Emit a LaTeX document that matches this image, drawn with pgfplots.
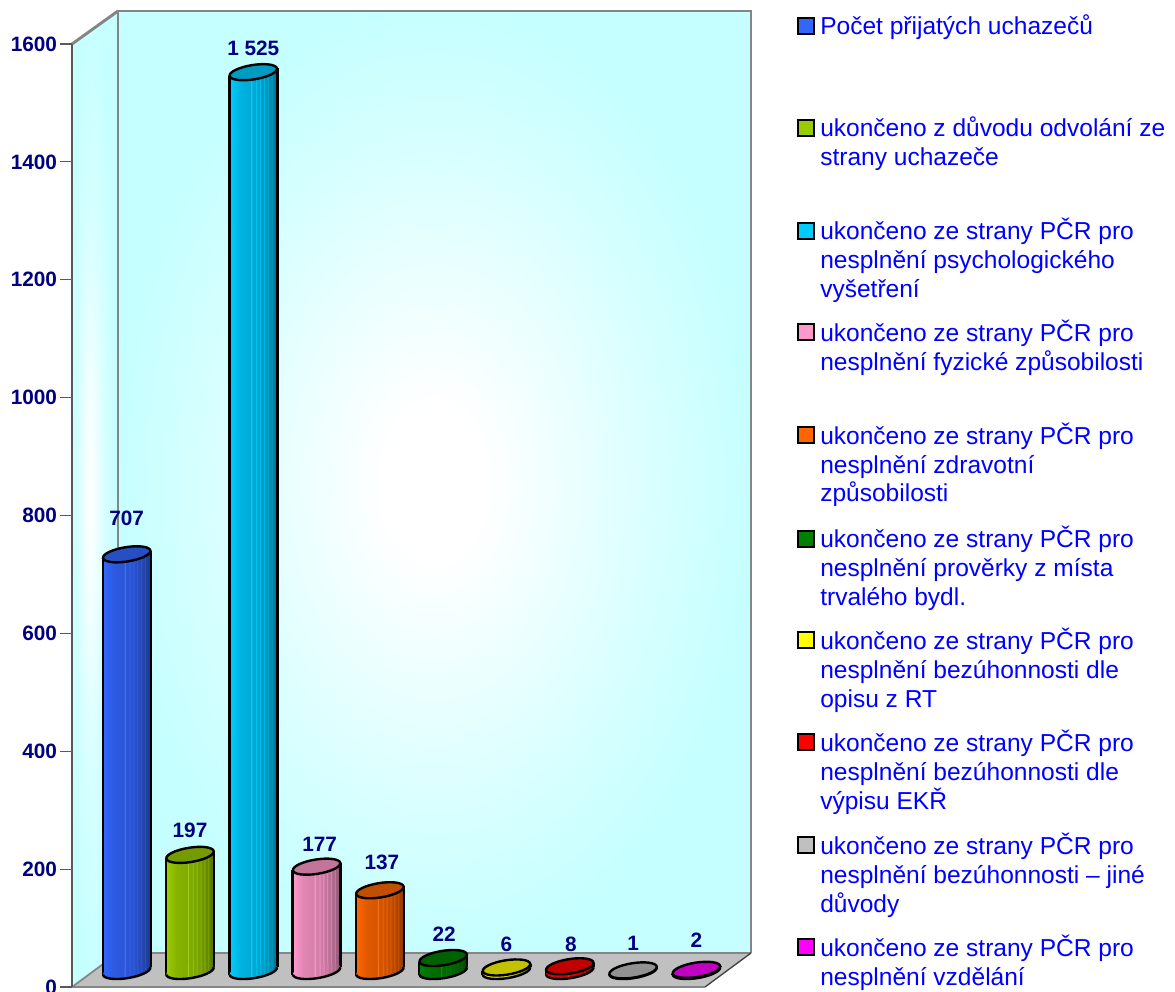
\documentclass[border=0pt]{standalone}
\usepackage{fontspec}
\setmainfont{Liberation Sans}
\usepackage{pgfplots}
\pgfplotsset{compat=1.18}
\definecolor{wallc}{HTML}{C6FFFF}
\definecolor{edgec}{HTML}{858585}
\definecolor{labelc}{HTML}{000080}
\definecolor{floorc}{HTML}{C0C0C0}
\definecolor{legc}{HTML}{0000FF}

% Back and side wall shadings
\pgfdeclareradialshading{backwall}{\pgfpoint{0bp}{0bp}}{%
  color(0bp)=(white);color(4bp)=(white);color(10bp)=(white!70!wallc);color(18bp)=(white!30!wallc);color(25bp)=(wallc);color(50bp)=(wallc)}
\pgfdeclareradialshading{sidewall}{\pgfpoint{-6bp}{0bp}}{%
  color(0bp)=(white);color(5bp)=(white!80!wallc);color(14bp)=(white!30!wallc);color(25bp)=(wallc);color(50bp)=(wallc)}

% One colour family per cylinder: striped body shading, base and cap marks
\newcommand{\declarecyl}[2]{%
  \definecolor{c#1}{HTML}{#2}%
  \pgfdeclarehorizontalshading{shade#1}{100bp}{%
    color(0bp)=(c#1);color(26bp)=(c#1);color(29bp)=(c#1!96!black);color(36bp)=(c#1!88!black);
    color(47bp)=(c#1!84!black);color(48bp)=(c#1!90!white);color(49bp)=(c#1!84!black);
    color(52bp)=(c#1!82!black);color(53bp)=(c#1!96!black);color(54bp)=(c#1!82!black);
    color(56bp)=(c#1!80!black);color(57bp)=(c#1!94!black);color(58bp)=(c#1!79!black);
    color(60bp)=(c#1!76!black);color(61bp)=(c#1!90!black);color(62bp)=(c#1!74!black);
    color(64bp)=(c#1!72!black);color(65bp)=(c#1!86!black);color(66bp)=(c#1!70!black);
    color(68bp)=(c#1!66!black);color(69bp)=(c#1!80!black);color(70bp)=(c#1!64!black);
    color(72bp)=(c#1!60!black);color(75bp)=(c#1!52!black);color(100bp)=(c#1!52!black)}%
  \pgfdeclareplotmark{base#1}{%
    \pgftransformrotate{9}%
    \pgfpathellipse{\pgfpointorigin}{\pgfpoint{18pt}{0pt}}{\pgfpoint{0pt}{5.4pt}}%
    \pgfshadepath{shade#1}{0}%
    \pgfusepath{discard}%
    \pgfpathmoveto{\pgfpoint{-18pt}{0pt}}%
    \pgfpatharc{180}{360}{18pt and 5.4pt}%
    \pgfsetlinewidth{1.8pt}\pgfsetstrokecolor{black}\pgfusepathqstroke}%
  \pgfdeclareplotmark{cap#1}{%
    \pgftransformrotate{9}%
    \pgfpathellipse{\pgfpointorigin}{\pgfpoint{18pt}{0pt}}{\pgfpoint{0pt}{5.4pt}}%
    \pgfsetlinewidth{1.8pt}\pgfsetstrokecolor{black}\pgfsetfillcolor{c#1!76!black}\pgfusepathqfillstroke}%
}
\declarecyl{a}{3366FF}
\declarecyl{b}{99CC00}
\declarecyl{d}{00CCFF}
\declarecyl{e}{FF99CC}
\declarecyl{f}{FF6600}
\declarecyl{g}{008000}
\declarecyl{h}{FFFF00}
\declarecyl{i}{FF0000}
\declarecyl{j}{C0C0C0}
\declarecyl{k}{FF00FF}

% name, centre x, value, label shift right, label shift up (in px)
\newcommand{\cyl}[5]{%
  \pgfmathsetmacro{\xl}{#2-24}\pgfmathsetmacro{\xr}{#2+24}%
  \pgfmathsetmacro{\tl}{#3-6.4}\pgfmathsetmacro{\tr}{#3+6.4}%
  \addplot[only marks, mark=base#1] coordinates {(#2,0)};
  \addplot[draw=none, shade, shading=shade#1] coordinates {(\xl,-6.4)(\xl,\tl)(\xr,\tr)(\xr,6.4)} --cycle;
  \addplot[black, line width=1.8pt] coordinates {(\xl,-6.4)(\xl,\tl)};
  \addplot[black, line width=1.8pt] coordinates {(\xr,6.4)(\xr,\tr)};
  \addplot[only marks, mark=cap#1,
    nodes near coords,
    every node near coord/.style={anchor=center, inner sep=0pt, text=labelc,
      font=\fontsize{15.6}{18}\selectfont\bfseries, xshift=#4*0.75pt, yshift=#5*0.75pt},
    /pgf/number format/1000 sep={\ },
    /pgf/number format/assume math mode=true] coordinates {(#2,#3)};
}
% Legend entry: colour, square centre y
\newcommand{\legmark}[2]{%
  \addplot[only marks, mark=square*, mark size=6pt,
    mark options={draw=black, fill=c#1, line width=1.3pt}] coordinates {(806,#2)};
}
\newcommand{\legline}[2]{%
  \node[anchor=base west, inner sep=0pt, text=legc, font=\fontsize{18.4}{22}\selectfont] at (axis cs:820,#1) {#2};
}

\begin{document}
\begin{tikzpicture}[x=1pt,y=1pt]
\useasboundingbox (0,0) rectangle (881.25pt,744pt);

% Walls, floor and legend in page pixels
\begin{axis}[at={(0pt,0pt)}, anchor=south west, scale only axis, width=881.25pt, height=744pt,
  xmin=0, xmax=1175, ymin=0, ymax=992, y dir=reverse, hide axis, clip=false]
  \addplot[draw=none, shade, shading=sidewall] coordinates {(72,44)(118,11)(118,953)(72,987)} --cycle;
  \addplot[draw=none, shade, shading=backwall] coordinates {(118,11)(751,11)(751,953)(118,953)} --cycle;
  \addplot[draw=none, fill=floorc] coordinates {(72,987)(118,953)(751,953)(705,987)} --cycle;
  \addplot[edgec, line width=2.2pt] coordinates {(118,953)(118,11)(751,11)(751,953)};
  \addplot[edgec, line width=2.2pt] coordinates {(72,44)(118,11)};
  \addplot[edgec, line width=1.5pt] coordinates {(118,953)(751,953)};
  \addplot[edgec, line width=1.3pt] coordinates {(72,987)(118,953)};
  \addplot[black!75, line width=1pt] coordinates {(705,987)(751,953)};
  \addplot[edgec, line width=1.5pt] coordinates {(72,987)(705,987)};
  \addplot[black!65, line width=1.4pt] coordinates {(72,44)(72,987)};

  \legmark{a}{26}
  \legmark{b}{128}
  \legmark{d}{231}
  \legmark{e}{332}
  \legmark{f}{435}
  \legmark{g}{539}
  \legmark{h}{640}
  \legmark{i}{742}
  \legmark{j}{845}
  \legmark{k}{947}

  \legline{34}{Počet přijatých uchazečů}
  \legline{136}{ukončeno z důvodu odvolání ze}
  \legline{165}{strany uchazeče}
  \legline{239}{ukončeno ze strany PČR pro}
  \legline{268}{nesplnění psychologického}
  \legline{297}{vyšetření}
  \legline{341}{ukončeno ze strany PČR pro}
  \legline{370}{nesplnění fyzické způsobilosti}
  \legline{444}{ukončeno ze strany PČR pro}
  \legline{473}{nesplnění zdravotní}
  \legline{501}{způsobilosti}
  \legline{547}{ukončeno ze strany PČR pro}
  \legline{576}{nesplnění prověrky z místa}
  \legline{605}{trvalého bydl.}
  \legline{649}{ukončeno ze strany PČR pro}
  \legline{678}{nesplnění bezúhonnosti dle}
  \legline{707}{opisu z RT}
  \legline{751}{ukončeno ze strany PČR pro}
  \legline{780}{nesplnění bezúhonnosti dle}
  \legline{809}{výpisu EKŘ}
  \legline{854}{ukončeno ze strany PČR pro}
  \legline{883}{nesplnění bezúhonnosti – jiné}
  \legline{912}{důvody}
  \legline{956}{ukončeno ze strany PČR pro}
  \legline{985}{nesplnění vzdělání}
\end{axis}

% Value axis on the front edge of the side wall
\begin{axis}[at={(54pt,3.75pt)}, anchor=south west, scale only axis, width=40pt, height=707.25pt,
  xmin=0, xmax=1, ymin=0, ymax=1600, axis x line=none, axis y line*=left,
  y axis line style={draw=none}, ytick={0,200,...,1600}, clip=false,
  tick style={black!65, line width=0.9pt}, tick align=outside, major tick length=9pt,
  yticklabel style={text=labelc, font=\fontsize{15.6}{18}\selectfont\bfseries, xshift=-2pt, inner sep=0pt},
  /pgf/number format/1000 sep={}, /pgf/number format/assume math mode=true]
\end{axis}

% Cylinders: value 0 sits on the floor, 16 px above the front edge
\begin{axis}[at={(54pt,3.75pt)}, anchor=south west, scale only axis, width=508.5pt, height=707.25pt,
  xmin=72, xmax=750, ymin=-27.15, ymax=1572.85, hide axis, clip=false]
  \cyl{a}{126.7}{707}{0}{36}
  \cyl{b}{190}{197}{0}{25}
  \cyl{d}{253.3}{1525}{0}{24}
  \cyl{e}{316.6}{177}{3}{22}
  \cyl{f}{379.9}{137}{2}{28}
  \cyl{g}{443.2}{22}{1}{24}
  \cyl{h}{506.5}{6}{0}{23}
  \cyl{i}{569.8}{8}{1}{22}
  \cyl{j}{633.1}{1}{0}{27}
  \cyl{k}{696.4}{2}{0}{30}
\end{axis}
\end{tikzpicture}
\end{document}
